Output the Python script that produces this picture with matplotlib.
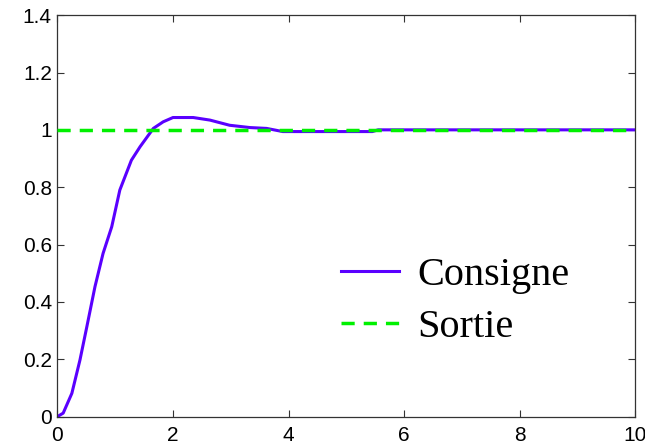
import matplotlib.pyplot as plt

# step response
t = [0, 0.1, 0.25, 0.39, 0.51, 0.65, 0.79, 0.94, 1.08, 1.28, 1.43, 1.66, 1.83,
     2.0, 2.35, 2.64, 2.98, 3.33, 3.62, 3.9, 4.19, 5.45, 5.55, 10]
consigne = [0, 0.012, 0.081, 0.197, 0.314, 0.453, 0.569, 0.662, 0.790, 0.894,
            0.941, 1.005, 1.028, 1.043, 1.043, 1.034, 1.016, 1.008, 1.005,
            0.994, 0.994, 0.994, 1.0, 1.0]
t_sortie = [0, 10]
sortie = [1, 1]

xticks = [0, 2, 4, 6, 8, 10]
yticks = [0, 0.2, 0.4, 0.6, 0.8, 1.0, 1.2, 1.4]
ytick_labels = ["0", "0.2", "0.4", "0.6", "0.8", "1", "1.2", "1.4"]

fig = plt.figure(figsize=(6.45, 4.46), dpi=100)
ax = fig.add_axes([0.089, 0.066, 0.896, 0.900])

ax.plot(t, consigne, color="#5a00ff", lw=2.2, label="Consigne", zorder=2)
ax.plot(t_sortie, sortie, color="#00f000", lw=2.5, ls=(0, (3.8, 2.6)),
        label="Sortie", zorder=3)

ax.set_xlim(0, 10)
ax.set_ylim(0, 1.4)
ax.set_xticks(xticks)
ax.set_yticks(yticks)
ax.set_yticklabels(ytick_labels)
ax.tick_params(direction="in", top=True, right=True, length=5, width=0.8,
               color="#333333", labelsize=15)
ax.tick_params(axis="x", pad=7)
ax.tick_params(axis="y", pad=4)
for lab in ax.get_xticklabels() + ax.get_yticklabels():
    lab.set_family("Liberation Sans")
for s in ax.spines.values():
    s.set_color("#333333")
    s.set_linewidth(0.9)

ax.legend(loc="center left", bbox_to_anchor=(0.49, 0.287), frameon=False,
          prop={"family": "Liberation Serif", "size": 29},
          handlelength=1.45, handletextpad=0.45, labelspacing=0.38,
          borderaxespad=0, borderpad=0)

fig.savefig("out.png", dpi=100)
